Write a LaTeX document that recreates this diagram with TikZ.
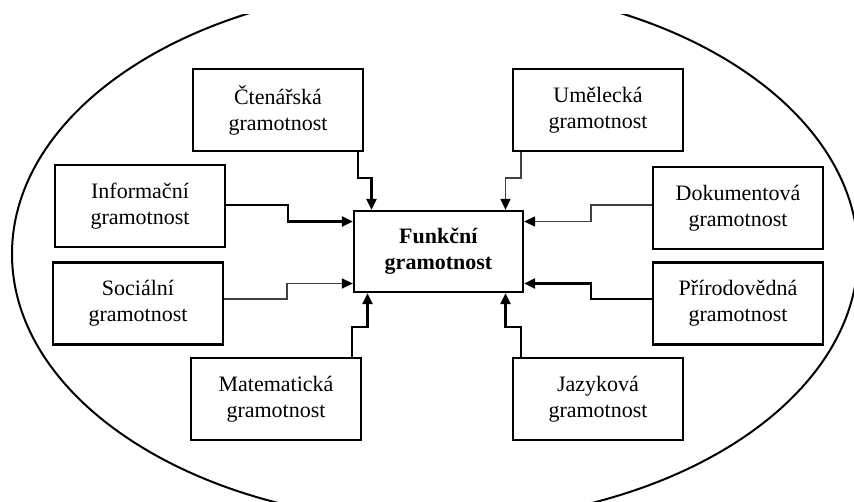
\documentclass[tikz,border=0pt]{standalone}
\usepackage{fontspec}
\setmainfont{Liberation Serif}
\usetikzlibrary{arrows.meta}

\begin{document}
\begin{tikzpicture}[x=1pt,y=-1pt,
  box/.style={draw, line width=2.3pt, minimum width=170pt, minimum height=82pt,
              align=center, inner sep=0pt, font=\fontsize{22}{26}\selectfont},
  link/.style={line width=2.2pt, -{Triangle[length=11pt,width=10pt]}},
  lightlink/.style={line width=1.4pt, draw=black!75,
                    -{Triangle[length=11pt,width=10pt,color=black]}}]
\useasboundingbox (0,0) rectangle (854,501);

% outer ellipse, cut at the top
\begin{scope}
  \clip (0,14) rectangle (854,501);
  \draw[line width=2pt] (435,254) ellipse [x radius=423, y radius=268];
\end{scope}

% central node
\node[box, minimum width=169pt, minimum height=81pt] (funk) at (438.5,251.5)
  {\textbf{Funkční}\\\textbf{gramotnost}};

% surrounding nodes
\node[box] (cten) at (278,110) {Čtenářská\\gramotnost};
\node[box] (umel) at (598,110) {Umělecká\\gramotnost};
\node[box] (info) at (140,206) {Informační\\gramotnost};
\node[box] (soc)  at (138,303.5) {Sociální\\gramotnost};
\node[box] (dok)  at (738,208) {Dokumentová\\gramotnost};
\node[box] (prir) at (738,303.5) {Přírodovědná\\gramotnost};
\node[box] (mat)  at (276,399) {Matematická\\gramotnost};
\node[box] (jaz)  at (598,399) {Jazyková\\gramotnost};

% stepped connectors into the centre
\draw[link] ([xshift=-6pt]cten.south east) -- ++(0,26) -| ([xshift=-67pt]funk.north);
\draw[lightlink] ([xshift=9pt]umel.south west) -- ++(0,26) -| ([xshift=67pt]funk.north);
\draw[link] ([yshift=1pt]info.east) -- ++(62,0) |- ([yshift=30pt]funk.west);
\draw[lightlink] ([yshift=4.5pt]soc.east) -- ++(63,0) |- ([yshift=-32pt]funk.west);
\draw[lightlink] ([yshift=3pt]dok.west) -- ++(-61,0) |- ([yshift=30pt]funk.east);
\draw[link] ([yshift=4.5pt]prir.west) -- ++(-61,0) |- ([yshift=-32pt]funk.east);
\draw[link] ([xshift=-10pt]mat.north east) -- ++(0,-30) -| ([xshift=-71pt]funk.south);
\draw[link] ([xshift=9pt]jaz.north west) -- ++(0,-30) -| ([xshift=67pt]funk.south);
\end{tikzpicture}
\end{document}
